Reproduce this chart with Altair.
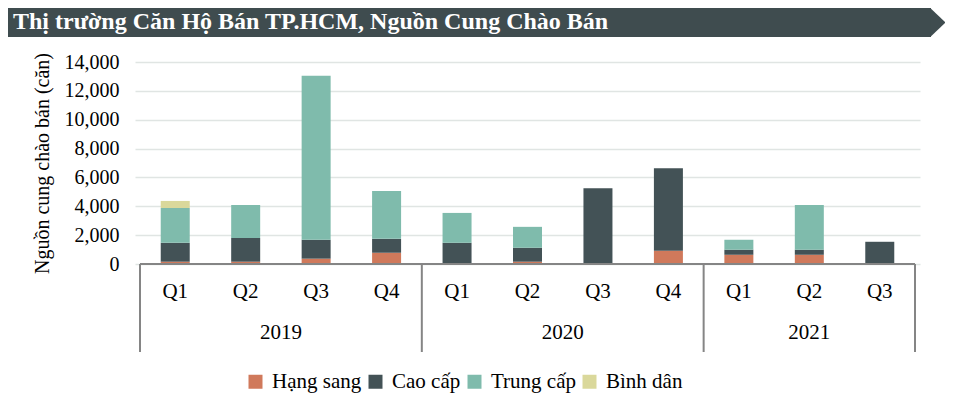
import altair as alt
import pandas as pd

# ---- data ----
quarters = ["Q1", "Q2", "Q3", "Q4", "Q1", "Q2", "Q3", "Q4", "Q1", "Q2", "Q3"]
years = ["2019"] * 4 + ["2020"] * 4 + ["2021"] * 3
hang_sang = [160, 160, 370, 780, 0, 160, 60, 920, 640, 640, 0]
cao_cap = [1310, 1650, 1310, 965, 1470, 965, 5185, 5720, 350, 350, 1540]
trung_cap = [2410, 2275, 11375, 3310, 2070, 1450, 0, 0, 690, 3100, 0]
binh_dan = [490, 0, 0, 0, 0, 0, 0, 0, 0, 0, 0]

segments = ["Hạng sang", "Cao cấp", "Trung cấp", "Bình dân"]
colors = ["#D0795B", "#435256", "#7FBBAC", "#DAD89B"]
series = [hang_sang, cao_cap, trung_cap, binh_dan]
y_ticks = [0, 2000, 4000, 6000, 8000, 10000, 12000, 14000]

title_text = "Thị trường Căn Hộ Bán TP.HCM, Nguồn Cung Chào Bán"
y_title = "Nguồn cung chào bán (căn)"

FONT = "Liberation Serif"
GRAY = "#858585"
W, H = 785, 202
N = len(quarters)

rows = []
for s_i, (seg, vals) in enumerate(zip(segments, series)):
    for i, v in enumerate(vals):
        rows.append({"idx": i, "q": quarters[i], "year": years[i], "seg": seg, "ord": s_i, "value": v})
df = pd.DataFrame(rows)
qdf = pd.DataFrame({"idx": list(range(N)), "q": quarters})

# year groups
ydf_rows = []
start = 0
for y in dict.fromkeys(years):
    cnt = years.count(y)
    ydf_rows.append({"year": y, "start": start, "end": start + cnt})
    start += cnt
ydf = pd.DataFrame(ydf_rows)
sep_df = pd.DataFrame({"b": list(ydf["start"]) + [N]})

xscale = alt.Scale(domain=[0, N], nice=False, zero=False)

bars = alt.Chart(df).transform_calculate(xc="datum.idx + 0.5").mark_bar(size=29, orient="vertical").encode(
    x=alt.X("xc:Q", scale=xscale, axis=None),
    y=alt.Y("value:Q", stack="zero",
            scale=alt.Scale(domain=[0, 14000], nice=False),
            axis=alt.Axis(values=y_ticks, format=",d", title=y_title,
                          domain=False, ticks=False, grid=True,
                          gridColor="#E0E5E3", gridWidth=1.5,
                          labelFont=FONT, labelFontSize=20, labelColor="#000000",
                          labelPadding=16, titleFont=FONT, titleFontSize=20,
                          titleFontWeight="normal", titleColor="#000000",
                          titlePadding=12)),
    color=alt.Color("seg:N", scale=alt.Scale(domain=segments, range=colors),
                    legend=alt.Legend(title=None, orient="none", direction="horizontal",
                                      legendX=110, legendY=309,
                                      symbolType="square", symbolSize=196,
                                      symbolStrokeWidth=0, labelFont=FONT,
                                      labelFontSize=21, labelColor="#000000",
                                      labelOffset=6, columnPadding=3)),
    order=alt.Order("ord:Q", sort="ascending"),
)

baseline = alt.Chart(pd.DataFrame({"a": [0], "b": [N]})).mark_rule(color=GRAY, strokeWidth=2).encode(
    x=alt.X("a:Q", scale=xscale, axis=None),
    x2="b:Q",
    y=alt.value(H),
)

seps = alt.Chart(sep_df).mark_rule(color=GRAY, strokeWidth=2).encode(
    x=alt.X("b:Q", scale=xscale, axis=None),
    y=alt.value(H),
    y2=alt.value(H + 88),
)

qlabels = alt.Chart(qdf).transform_calculate(xc="datum.idx + 0.5").mark_text(
    font=FONT, fontSize=21, color="#000000", baseline="middle", align="center"
).encode(
    x=alt.X("xc:Q", scale=xscale, axis=None),
    y=alt.value(230),
    text="q:N",
)

ylabels = alt.Chart(ydf).transform_calculate(mid="(datum.start + datum.end) / 2").mark_text(
    font=FONT, fontSize=21, color="#000000", baseline="middle", align="center"
).encode(
    x=alt.X("mid:Q", scale=xscale, axis=None),
    y=alt.value(271),
    text="year:N",
)

banner_df = pd.DataFrame({"t": [title_text]})
banner = alt.Chart(banner_df).mark_rect(color="#3F4C4F").encode(
    x=alt.value(-127), x2=alt.value(796), y=alt.value(-54), y2=alt.value(-25)
)
chevron = alt.Chart(banner_df).mark_point(
    shape="M-0.05,-1L1,0L-0.05,1Z", filled=True, color="#3F4C4F", opacity=1, size=841, strokeWidth=0
).encode(x=alt.value(796), y=alt.value(-39.5))
banner_text = alt.Chart(banner_df).mark_text(
    font=FONT, fontSize=24, fontWeight="bold", color="#FFFFFF", align="left", baseline="middle"
).encode(x=alt.value(-122), y=alt.value(-40), text="t:N")

chart = alt.layer(bars, baseline, seps, qlabels, ylabels, banner, chevron, banner_text).properties(
    width=W, height=H,
    autosize=alt.AutoSizeParams(type="none"),
    padding={"left": 127, "top": 54, "right": 25, "bottom": 148},
).configure_view(stroke=None)

chart.save("out.html", embed_options={"renderer": "svg", "actions": False})
